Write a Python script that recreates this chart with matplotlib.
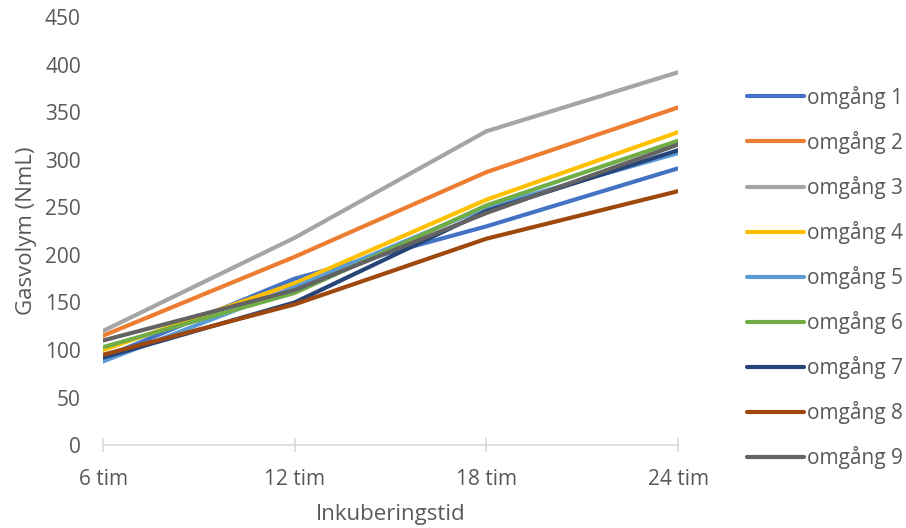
import matplotlib
matplotlib.use("Agg")
import matplotlib.pyplot as plt

plt.rcParams['font.family'] = ['Open Sans', 'DejaVu Sans']

# inkubering data
tider = ["6 tim", "12 tim", "18 tim", "24 tim"]
omgang_1 = [92, 175, 230, 291]
omgang_2 = [115, 198, 287, 355]
omgang_3 = [120, 218, 330, 392]
omgang_4 = [100, 170, 258, 329]
omgang_5 = [88, 166, 250, 307]
omgang_6 = [103, 160, 252, 320]
omgang_7 = [92, 150, 246, 310]
omgang_8 = [95, 148, 217, 267]
omgang_9 = [110, 163, 244, 316]

serier = [omgang_1, omgang_2, omgang_3, omgang_4, omgang_5,
          omgang_6, omgang_7, omgang_8, omgang_9]
namn = ["omgång %d" % (i + 1) for i in range(9)]
farger = ["#4472C4", "#ED7D31", "#A5A5A5", "#FFC000", "#5B9BD5",
          "#70AD47", "#264478", "#9E480E", "#636363"]

fig = plt.figure(figsize=(9.06, 5.28), dpi=100)
ax = fig.add_axes([0.1137, 0.157, 0.6347, 0.8106])

x = range(len(tider))
for y, lab, c in zip(serier, namn, farger):
    ax.plot(x, y, color=c, linewidth=3, label=lab, solid_capstyle='round')

ax.set_xlim(0, 3)
ax.set_ylim(0, 450)
ax.set_yticks(range(0, 451, 50))
ax.set_xticks(list(x))
ax.set_xticklabels(tider)

for s in ["top", "right", "left"]:
    ax.spines[s].set_visible(False)
ax.spines["bottom"].set_color("#D9D9D9")
ax.spines["bottom"].set_linewidth(1.2)
ax.tick_params(axis="y", length=0, pad=16, labelsize=15, labelcolor="#595959")
ax.tick_params(axis="x", length=10, width=1.2, color="#D9D9D9", direction="inout",
               pad=12, labelsize=15, labelcolor="#595959")

ax.set_xlabel("Inkuberingstid", fontsize=16, color="#595959", labelpad=10)
ax.set_ylabel("Gasvolym (NmL)", fontsize=16, color="#595959", labelpad=6)

fig.legend(loc="center left", bbox_to_anchor=(0.8245, 0.4744),
           frameon=False, fontsize=15, handlelength=2.75, handletextpad=0.14,
           labelspacing=1.06, borderpad=0, borderaxespad=0,
           labelcolor="#595959")

fig.savefig("out.png", dpi=100)
